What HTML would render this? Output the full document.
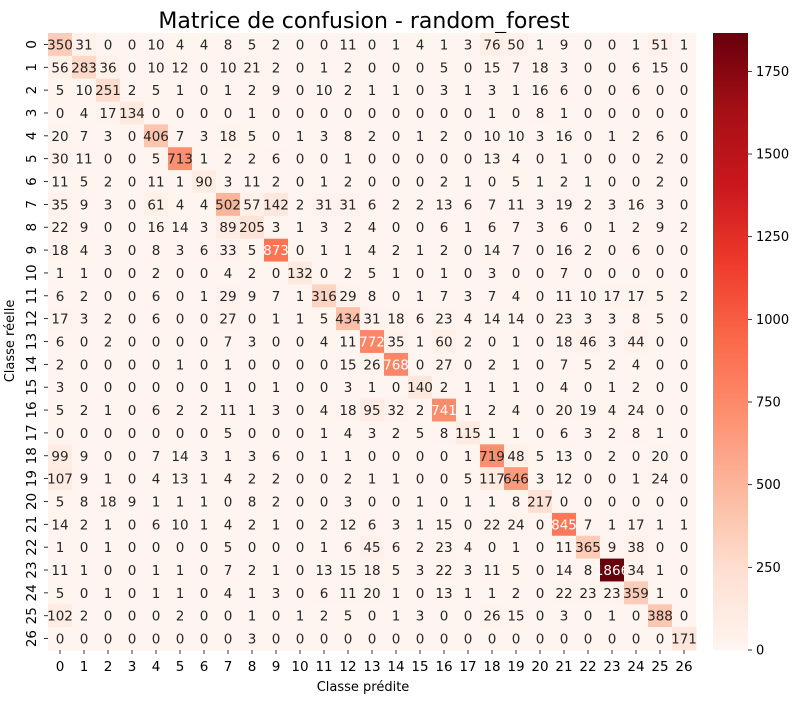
<!DOCTYPE html>
<html><head><meta charset="utf-8"><style>
body{margin:0;background:#fff;}
svg{display:block;font-family:"DejaVu Sans","Liberation Sans",sans-serif;}
</style></head><body>
<svg id="chart" width="797" height="704" viewBox="0 0 797 704" xmlns="http://www.w3.org/2000/svg">
<text x="364" y="28" text-anchor="middle" font-size="22">Matrice de confusion - random_forest</text>
<text x="363" y="691" text-anchor="middle" font-size="13">Classe prédite</text>
<text transform="translate(14,341) rotate(-90)" text-anchor="middle" font-size="13">Classe réelle</text>
<g id="cells"></g>
<g id="xticks"></g>
<g id="yticks"></g>
<defs><linearGradient id="cbgrad" x1="0" y1="1" x2="0" y2="0"></linearGradient></defs>
<rect x="713" y="33" width="35" height="617" fill="url(#cbgrad)"/>
<g id="cbticks"></g>
</svg>
<script>
const classes = [0,1,2,3,4,5,6,7,8,9,10,11,12,13,14,15,16,17,18,19,20,21,22,23,24,25,26];
const matrix = [
[350,31,0,0,10,4,4,8,5,2,0,0,11,0,1,4,1,3,76,50,1,9,0,0,1,51,1],
[56,283,36,0,10,12,0,10,21,2,0,1,2,0,0,0,5,0,15,7,18,3,0,0,6,15,0],
[5,10,251,2,5,1,0,1,2,9,0,10,2,1,1,0,3,1,3,1,16,6,0,0,6,0,0],
[0,4,17,134,0,0,0,0,1,0,0,0,0,0,0,0,0,0,1,0,8,1,0,0,0,0,0],
[20,7,3,0,406,7,3,18,5,0,1,3,8,2,0,1,2,0,10,10,3,16,0,1,2,6,0],
[30,11,0,0,5,713,1,2,2,6,0,0,1,0,0,0,0,0,13,4,0,1,0,0,0,2,0],
[11,5,2,0,11,1,90,3,11,2,0,1,2,0,0,0,2,1,0,5,1,2,1,0,0,2,0],
[35,9,3,0,61,4,4,502,57,142,2,31,31,6,2,2,13,6,7,11,3,19,2,3,16,3,0],
[22,9,0,0,16,14,3,89,205,3,1,3,2,4,0,0,6,1,6,7,3,6,0,1,2,9,2],
[18,4,3,0,8,3,6,33,5,873,0,1,1,4,2,1,2,0,14,7,0,16,2,0,6,0,0],
[1,1,0,0,2,0,0,4,2,0,132,0,2,5,1,0,1,0,3,0,0,7,0,0,0,0,0],
[6,2,0,0,6,0,1,29,9,7,1,316,29,8,0,1,7,3,7,4,0,11,10,17,17,5,2],
[17,3,2,0,6,0,0,27,0,1,1,5,434,31,18,6,23,4,14,14,0,23,3,3,8,5,0],
[6,0,2,0,0,0,0,7,3,0,0,4,11,772,35,1,60,2,0,1,0,18,46,3,44,0,0],
[2,0,0,0,0,1,0,1,0,0,0,0,15,26,768,0,27,0,2,1,0,7,5,2,4,0,0],
[3,0,0,0,0,0,0,1,0,1,0,0,3,1,0,140,2,1,1,1,0,4,0,1,2,0,0],
[5,2,1,0,6,2,2,11,1,3,0,4,18,95,32,2,741,1,2,4,0,20,19,4,24,0,0],
[0,0,0,0,0,0,0,5,0,0,0,1,4,3,2,5,8,115,1,1,0,6,3,2,8,1,0],
[99,9,0,0,7,14,3,1,3,6,0,1,1,0,0,0,0,1,719,48,5,13,0,2,0,20,0],
[107,9,1,0,4,13,1,4,2,2,0,0,2,1,1,0,0,5,117,646,3,12,0,0,1,24,0],
[5,8,18,9,1,1,1,0,8,2,0,0,3,0,0,1,0,1,1,8,217,0,0,0,0,0,0],
[14,2,1,0,6,10,1,4,2,1,0,2,12,6,3,1,15,0,22,24,0,845,7,1,17,1,1],
[1,0,1,0,0,0,0,5,0,0,0,1,6,45,6,2,23,4,0,1,0,11,365,9,38,0,0],
[11,1,0,0,1,1,0,7,2,1,0,13,15,18,5,3,22,3,11,5,0,14,8,1866,34,1,0],
[5,0,1,0,1,1,0,4,1,3,0,6,11,20,1,0,13,1,1,2,0,22,23,23,359,1,0],
[102,2,0,0,0,2,0,0,1,0,1,2,5,0,1,3,0,0,26,15,0,3,0,1,0,388,0],
[0,0,0,0,0,0,0,0,3,0,0,0,0,0,0,0,0,0,0,0,0,0,0,0,0,0,171]
];
const cbTicks = [0,250,500,750,1000,1250,1500,1750];

const NS="http://www.w3.org/2000/svg";
const X0=48, X1=696, Y0=33, Y1=650;
const n=classes.length;
const cw=(X1-X0)/n, ch=(Y1-Y0)/n;
const vmax=Math.max(...matrix.flat());
const xPos=i=>X0+i*cw, yPos=i=>Y0+i*ch;
const cbY=v=>Y1-v/vmax*(Y1-Y0);
const stops=["#fff5f0","#fee0d2","#fcbba1","#fc9272","#fb6a4a","#ef3b2c","#cb181d","#a50f15","#67000d"].map(h=>[parseInt(h.slice(1,3),16),parseInt(h.slice(3,5),16),parseInt(h.slice(5,7),16)]);
function cmap(t){t=Math.max(0,Math.min(1,t))*8;const i=Math.min(7,Math.floor(t)),f=t-i;
 return stops[i].map((c,k)=>Math.round(c+(stops[i+1][k]-c)*f));}
function lum(c){const l=c.map(v=>{v/=255;return v<=0.03928?v/12.92:Math.pow((v+0.055)/1.055,2.4)});return 0.2126*l[0]+0.7152*l[1]+0.0722*l[2];}
function mk(tag,attrs,parent){const e=document.createElementNS(NS,tag);for(const k in attrs)e.setAttribute(k,attrs[k]);parent.appendChild(e);return e;}
const cells=document.getElementById('cells');
matrix.forEach((row,r)=>row.forEach((v,c)=>{
 const col=cmap(v/vmax);
 const rect=mk('rect',{x:xPos(c),y:yPos(r),width:cw+0.5,height:ch+0.5,fill:`rgb(${col})`},cells);
 
 
 const t=mk('text',{x:xPos(c)+cw/2,y:yPos(r)+ch/2+5,'text-anchor':'middle','font-size':13.5,fill:lum(col)>0.408?'#262626':'#ffffff'},cells);
 
 
 t.textContent=v;
}));
const xt=document.getElementById('xticks'), yt=document.getElementById('yticks');
classes.forEach((c,i)=>{
 const x=xPos(i)+cw/2;
 mk('line',{x1:x,x2:x,y1:Y1,y2:Y1+4,stroke:'#000','stroke-width':0.8},xt);
 const t=mk('text',{x:x,y:Y1+21,'text-anchor':'middle','font-size':13.5},xt);
 
 
 t.textContent=c;
 const y=yPos(i)+ch/2;
 mk('line',{x1:X0-4,x2:X0,y1:y,y2:y,stroke:'#000','stroke-width':0.8},yt);
 const u=mk('text',{transform:`translate(${X0-12},${y}) rotate(-90)`,'text-anchor':'middle','font-size':13.5,dy:'0'},yt);
 
 
 u.textContent=c;
});
const g=document.getElementById('cbgrad');
for(let i=0;i<=8;i++){mk('stop',{offset:i/8,'stop-color':`rgb(${stops[i]})`},g);}
const cbt=document.getElementById('cbticks');
cbTicks.forEach(v=>{const y=cbY(v);
 mk('line',{x1:748,x2:752,y1:y,y2:y,stroke:'#000','stroke-width':0.8},cbt);
 const t=mk('text',{x:756,y:y+4.5,'font-size':13},cbt);
 
 
 t.textContent=v;});
</script>
</body></html>
